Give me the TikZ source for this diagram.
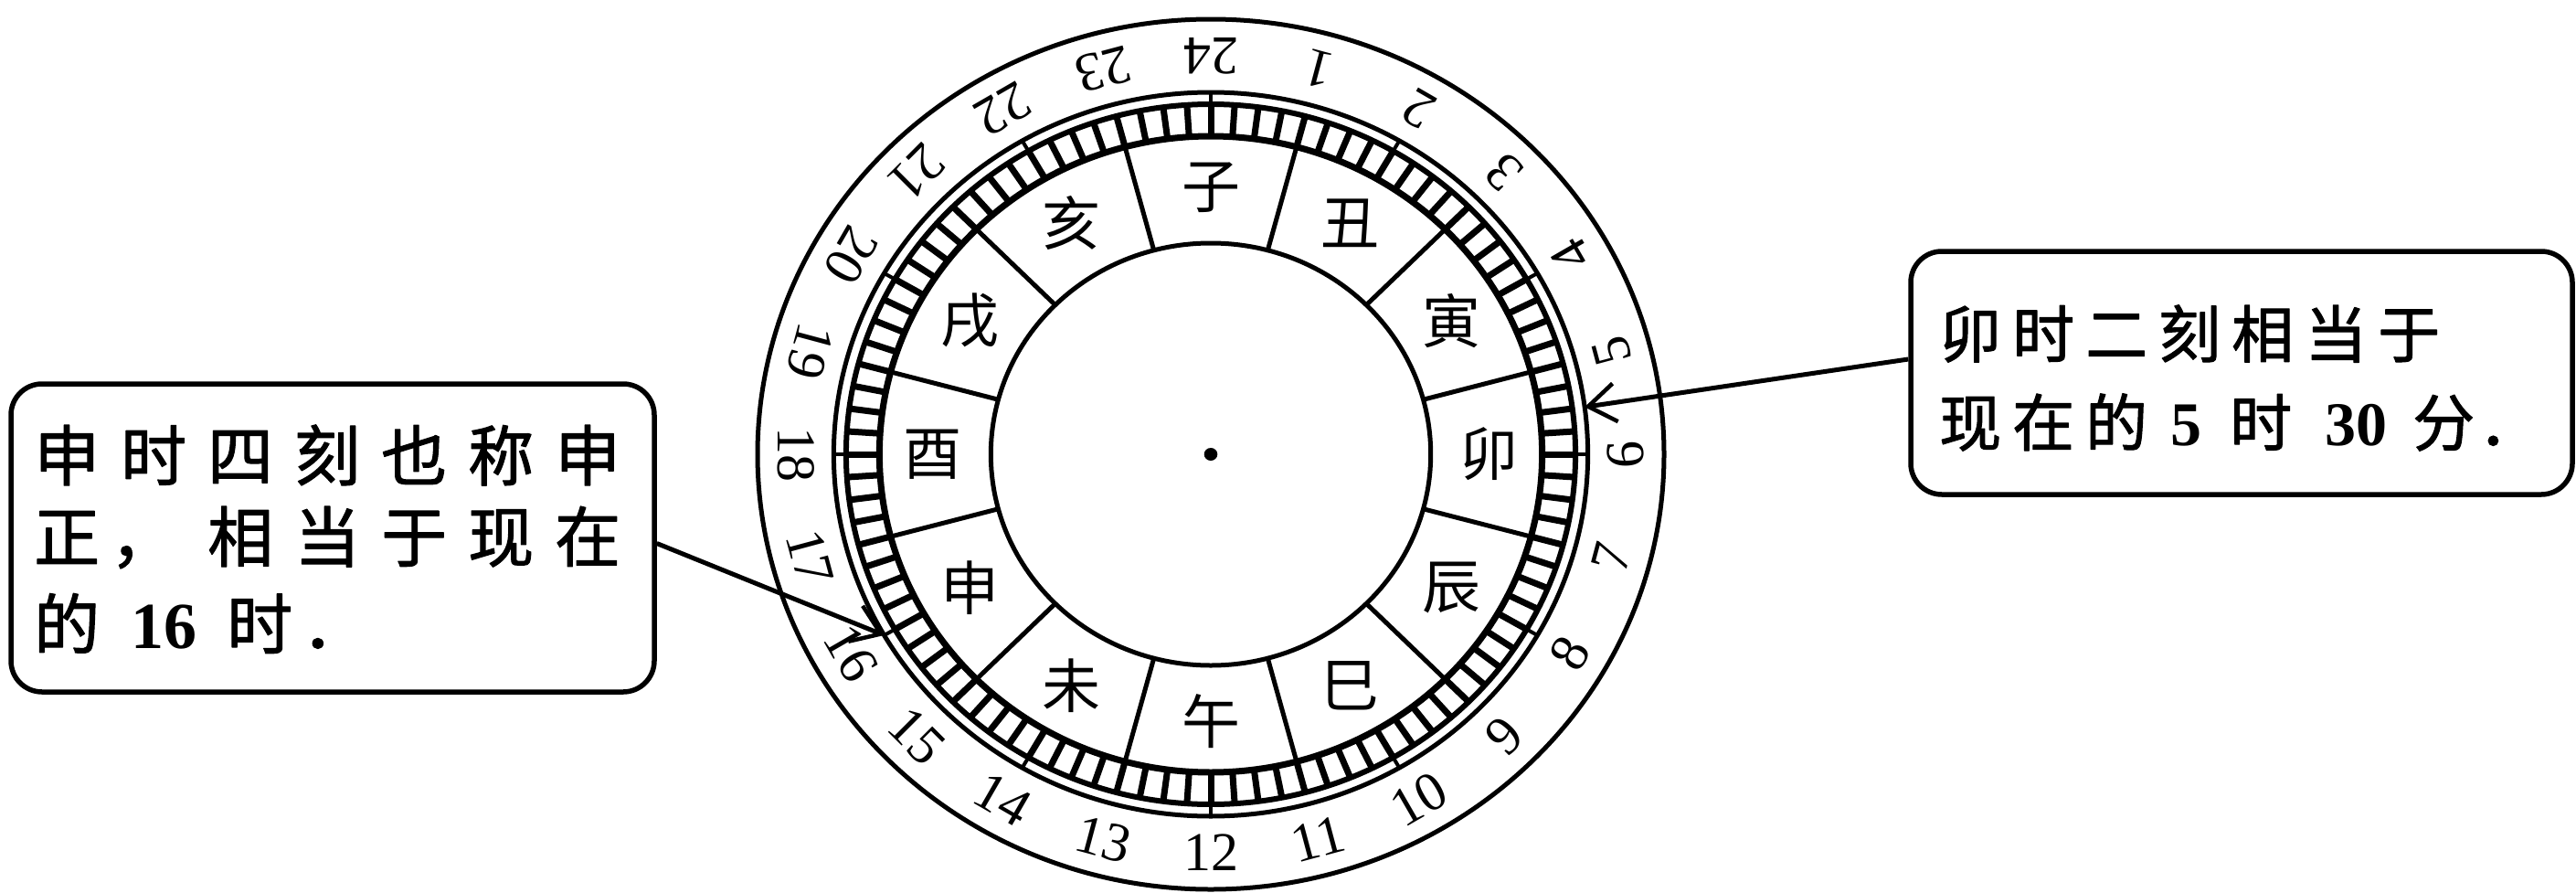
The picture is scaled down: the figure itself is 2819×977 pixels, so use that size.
\documentclass[tikz,border=0pt]{standalone}
\usepackage{fontspec}
\setmainfont{Liberation Serif}
\newfontfamily\cjk{Noto Sans CJK SC}
\newfontfamily\cjkb{Noto Sans CJK SC}[FakeBold=1.5]
\usetikzlibrary{arrows.meta}
\newcommand\lc[1]{\makebox[95pt][c]{#1}}
\newcommand\rc[1]{\makebox[80pt][c]{#1}}
\begin{document}
\begin{tikzpicture}[x=1pt,y=1pt,line join=round,
  ring/.style={line width=5pt},
  tickln/.style={line width=7pt},
  num/.style={inner sep=0pt,font=\fontsize{60pt}{60pt}\selectfont},
  branch/.style={inner sep=0pt,font=\cjk\fontsize{64pt}{64pt}\selectfont},
  box/.style={draw,line width=5.5pt,rounded corners=34pt,inner sep=0pt},
  ltxt/.style={inner sep=0pt,anchor=west,font=\cjkb\fontsize{72pt}{72pt}\selectfont},
  rtxt/.style={inner sep=0pt,anchor=west,font=\cjkb\fontsize{68pt}{68pt}\selectfont},
  callout/.style={line width=5pt,-{Straight Barb[length=30pt,width=42pt,line width=4.5pt]}}]
\useasboundingbox (0,0) rectangle (2819,-977);
\begin{scope}[shift={(1325,-497)},xscale=1.042]
  \draw[ring] (0,0) circle[radius=476];
  \draw[ring] (0,0) circle[radius=396];
  \draw[line width=6pt] (0,0) circle[radius=383];
  \draw[line width=7pt] (0,0) circle[radius=348];
  \draw[ring] (0,0) circle[radius=231];
  \foreach \i in {0,...,95} \draw[tickln] (\i*3.75:348) -- (\i*3.75:383);
  \foreach \k in {0,...,11} \draw[line width=4pt] (\k*30:383) -- (\k*30:396);
  \foreach \k in {0,...,11} \draw[ring] (15+\k*30:231) -- (15+\k*30:348);
  \fill (0,0) circle[radius=7];
  \foreach \h in {1,...,24} \node[num,rotate=180-15*\h] (n\h) at (90-15*\h:436) {\h};
  \foreach \c/\a [count=\j] in {子/90,丑/60,寅/30,卯/0,辰/-30,巳/-60,午/-90,未/-120,申/-150,酉/180,戌/150,亥/120}
    \node[branch] (b\j) at (\a:292) {\c};
  \coordinate (tipL) at (-150:396);
  \coordinate (tipR) at (7.5:396);
\end{scope}
% left callout
\node[box,minimum width=704pt,minimum height=337pt] (L) at (364,-588.5) {};
\node[ltxt] (l1) at (25.5,-498) {\lc{申}\lc{时}\lc{四}\lc{刻}\lc{也}\lc{称}\lc{申}};
\node[ltxt] (l2) at (25.5,-588) {\lc{正}\makebox[50pt][l]{，}\makebox[45pt]{}\lc{相}\lc{当}\lc{于}\lc{现}\lc{在}};
\node[ltxt] (l3) at (25.5,-682) {\lc{的}\makebox[117pt][c]{\rmfamily\bfseries 16}\makebox[93pt][c]{时}．};
% right callout
\node[box,minimum width=724pt,minimum height=266pt] (R) at (2453,-408) {};
\node[rtxt] (r1) at (2116,-365) {\rc{卯}\rc{时}\rc{二}\rc{刻}\rc{相}\rc{当}\rc{于}};
\node[rtxt] (r2) at (2116,-462) {\rc{现}\rc{在}\rc{的}\makebox[72pt][c]{\rmfamily\bfseries 5}\makebox[92pt][c]{时}\makebox[116pt][c]{\rmfamily\bfseries 30}\makebox[76pt][c]{分}．};
\draw[callout] ([yshift=-6pt]L.east) -- (tipL);
\draw[callout] ([yshift=15pt]R.west) -- (tipR);
\end{tikzpicture}
\end{document}
